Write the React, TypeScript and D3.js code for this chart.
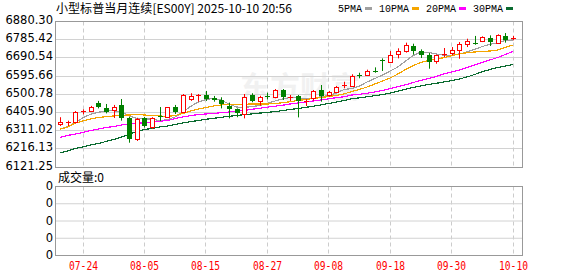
import React from "react";
import * as d3 from "d3";

const dates = [
  "07-21","07-22","07-23","07-24","07-25","07-28","07-29","07-30","07-31","08-01",
  "08-04","08-05","08-06","08-07","08-08","08-11","08-12","08-13","08-14","08-15",
  "08-18","08-19","08-20","08-21","08-22","08-25","08-26","08-27","08-28","08-29",
  "09-01","09-02","09-03","09-04","09-05","09-08","09-09","09-10","09-11","09-12",
  "09-15","09-16","09-17","09-18","09-19","09-22","09-23","09-24","09-25","09-26",
  "09-29","09-30","10-01","10-02","10-03","10-06","10-07","10-08","10-09","10-10",
];

const opens = [
  6344,6351,6355,6408,6415,6455,6427,6421,6445,6378,
  6267,6377,6332,6385,6384,6432,6408,6476,6493,6497,
  6480,6471,6440,6422,6396,6497,6467,6490,6488,6523,
  6486,6492,6464,6480,6523,6497,6514,6544,6545,6603,
  6601,6624,6679.5,6671,6711,6725,6752.5,6725,6707,6673,
  6707.5,6716,6733,6764.5,6770,6777,6794,6770,6805,6792.5,
];
const highs = [
  6381,6363,6413,6422,6440,6466,6450,6445,6476,6382,
  6378,6382,6381,6434,6434,6445,6502,6506,6502,6518,
  6492,6485,6457,6427,6502,6506,6493,6509,6528,6528,
  6497,6497,6474.5,6523,6549,6518,6544,6566,6605,6613,
  6629,6641,6688,6726,6740.5,6770,6764.5,6735,6716,6707,
  6742,6747,6773,6790.5,6805,6803,6808,6813.5,6820,6805,
];
const lows = [
  6335,6335,6349,6396,6410,6427,6401,6377,6363,6248,
  6257,6327,6320,6361,6381,6398,6403,6466,6462,6466,
  6462,6427,6375,6381,6375,6459,6441,6474,6480,6471,
  6466,6380,6439.5,6467,6462,6488,6511,6532,6544,6584,
  6596,6613,6622,6670,6688,6718,6707,6690,6634,6660,
  6695,6704,6686,6747,6759,6773,6752.5,6764.5,6770,6782,
];
const closes = [
  6356,6355,6410,6412,6433,6433,6410,6432,6378,6267,
  6372,6334,6375,6380,6433,6406,6497,6492,6495,6474.5,
  6471,6448,6425,6405,6488,6466,6488,6486,6523,6488,
  6489,6467,6467,6518,6492,6511,6540,6547.5,6598,6600,
  6622,6620.5,6673,6706,6726,6759,6725,6704,6669,6704,
  6711,6730,6764.5,6777,6764.5,6799.5,6773,6808,6782,6796,
];

const ma5 = [
  6318.0,6331.6,6352.4,6378.5,6396.2,6406.7,6413.4,6415.0,6408.2,6387.4,
  6374.3,6371.7,6371.7,6361.3,6369.1,6382.2,6408.2,6436.9,6460.4,6473.4,
  6478.7,6470.8,6450.0,6434.3,6431.7,6436.9,6442.1,6452.6,6465.6,6476.1,
  6483.9,6481.3,6476.1,6481.3,6488.0,6494.3,6507.3,6525.6,6530.8,6543.9,
  6564.7,6583.0,6601.2,6622.1,6643.0,6674.3,6703.0,6721.2,6718.6,6710.8,
  6704.0,6704.0,6710.8,6721.2,6735.3,6749.9,6761.4,6769.7,6781.2,6783.8,
];
const ma10 = [
  6318.0,6330.0,6350.9,6361.3,6371.7,6379.6,6383.7,6387.4,6391.0,6392.6,
  6394.2,6392.6,6390.0,6387.4,6384.8,6390.0,6400.4,6413.4,6423.9,6431.7,
  6439.5,6444.8,6447.4,6448.4,6448.9,6450.0,6450.0,6450.0,6452.6,6456.8,
  6462.0,6468.2,6473.4,6478.7,6483.9,6489.1,6494.3,6502.1,6515.2,6525.6,
  6538.6,6554.3,6569.9,6585.6,6606.5,6629.9,6650.8,6666.4,6676.9,6684.7,
  6691.5,6701.9,6710.8,6717.6,6721.2,6723.8,6726.4,6731.6,6744.7,6757.7,
];
const ma20 = [
  6276.3,6285.7,6293.5,6301.3,6311.7,6319.6,6327.4,6332.6,6340.4,6345.6,
  6349.3,6352.4,6356.1,6359.7,6363.9,6374.3,6382.2,6389.0,6395.2,6397.8,
  6400.4,6404.6,6408.2,6411.9,6416.1,6422.3,6427.5,6433.3,6438.5,6443.7,
  6450.0,6455.2,6460.4,6465.6,6470.8,6477.1,6482.8,6487.5,6496.9,6500.6,
  6505.8,6512.6,6520.4,6529.8,6539.7,6550.1,6562.1,6572.6,6583.0,6593.4,
  6606.5,6616.9,6627.3,6640.4,6653.4,6666.4,6679.5,6692.5,6708.2,6723.8,
];
const ma30 = [
  6194.4,6204.8,6217.8,6225.7,6236.1,6243.9,6254.4,6264.8,6277.8,6290.9,
  6306.5,6317.0,6322.2,6330.0,6335.2,6343.0,6350.9,6357.6,6363.9,6370.2,
  6375.4,6380.6,6385.8,6390.0,6394.2,6398.3,6402.5,6406.2,6410.3,6415.5,
  6421.3,6426.5,6432.2,6438.5,6445.3,6452.6,6460.4,6468.2,6477.1,6482.3,
  6487.5,6493.3,6499.0,6506.3,6516.2,6527.2,6536.0,6543.9,6551.7,6557.9,
  6564.7,6571.5,6580.4,6590.8,6603.8,6617.9,6629.9,6640.4,6648.2,6656.0,
];

const yTickLabels = ["6880.30","6785.42","6690.54","6595.66","6500.78","6405.90","6311.02","6216.13","6121.25"];
const xTickLabels = ["07-24","08-05","08-15","08-27","09-08","09-18","09-30","10-10"];
const volTickLabels = ["0","0","0","0","0"];
const legendNames = ["5PMA","10PMA","20PMA","30PMA"];
const titleText = "小型标普当月连续[ES00Y] 2025-10-10 20:56";
const volTitle = "成交量:0";

const RED = "#ff0000";
const GREEN = "#008000";
const maColors = ["#a0a0a0", "#f5a500", "#ff00ff", "#0a6b30"];
const FRAME = "#999999";
const HGRID = "#d2d2d2";
const VGRID = "#cccccc";

export default function App() {
  const left = 55.5, right = 522.5, top = 21.5, bottom = 167.5;
  const vTop = 186.5, vBottom = 255.5;
  const x = d3.scalePoint<string>().domain(dates).range([60, 513]);
  const y = d3.scaleLinear().domain([6121.25, 6880.30]).range([167, 21.5]);
  const vy = d3.scaleLinear().domain([0, volTickLabels.length - 1]).range([vBottom, vTop]);
  const crisp = (v: number) => Math.floor(v) + 0.5;
  const series = [ma5, ma10, ma20, ma30];
  const line = d3
    .line<number>()
    .x((_, i) => x(dates[i]) as number)
    .y((v) => y(v));

  let lx = 338;
  const legendItems = legendNames.map((name, i) => {
    const tw = name.length * 6;
    const item = { name, tx: lx, mx: lx + tw + 3, color: maColors[i], tw };
    lx = lx + tw + 3 + 7 + 7;
    return item;
  });

  return (
    <svg
      width={578}
      height={276}
      style={{ position: "absolute", left: 0, top: 0, background: "#fff" }}
    >
      <rect x={0} y={0} width={578} height={276} fill="#fff" />
      <text
        x={240}
        y={98}
        fontSize={29}
        fontWeight="bold"
        fontFamily="'Noto Sans CJK SC'"
        fill="#f1f1f1"
        textLength={120}
        lengthAdjust="spacingAndGlyphs"
      >
        东方财富
      </text>
      <text
        x={56}
        y={12.5}
        fontSize={12}
        fontFamily="'Noto Sans CJK SC', sans-serif"
        fill="#000"
        textLength={236}
        lengthAdjust="spacingAndGlyphs"
      >
        {titleText}
      </text>
      {legendItems.map((it) => (
        <g key={it.name}>
          <text
            x={it.tx}
            y={12}
            fontSize={10.5}
            fontFamily="'Liberation Mono', monospace"
            fill="#000"
            textLength={it.tw}
            lengthAdjust="spacingAndGlyphs"
          >
            {it.name}
          </text>
          <rect x={it.mx} y={7} width={7} height={3} fill={it.color} />
        </g>
      ))}
      {yTickLabels.map((t, i) => {
        const yy = crisp(y(parseFloat(t)));
        return (
          <g key={"yg" + i}>
            {i > 0 && i < yTickLabels.length - 1 && (
              <line x1={left} x2={right} y1={yy} y2={yy} stroke={HGRID} strokeWidth={1} />
            )}
            <text
              x={53}
              y={yy - 1}
              textAnchor="end"
              dominantBaseline="middle"
              fontSize={11.5}
              fontFamily="'DejaVu Sans', sans-serif"
              fill="#000"
            >
              {t}
            </text>
          </g>
        );
      })}
      {xTickLabels.map((t) => {
        const xx = crisp(x(t) as number);
        return (
          <g key={"xg" + t}>
            <line x1={xx} x2={xx} y1={top} y2={bottom} stroke={VGRID} strokeDasharray="4,3" />
            <line x1={xx} x2={xx} y1={vTop} y2={vBottom} stroke={VGRID} strokeDasharray="4,3" />
            <text
              x={xx}
              y={266}
              textAnchor="middle"
              dominantBaseline="middle"
              fontSize={11.5}
              fontFamily="'DejaVu Sans Mono', monospace"
              fill={RED}
              textLength={29}
              lengthAdjust="spacingAndGlyphs"
            >
              {t}
            </text>
          </g>
        );
      })}
      {volTickLabels.map((t, i) => {
        const yy = vy(i);
        return (
          <g key={"vg" + i}>
            {i > 0 && i < volTickLabels.length - 1 && (
              <line x1={left} x2={right} y1={yy} y2={yy} stroke={HGRID} />
            )}
            <text
              x={53}
              y={yy}
              textAnchor="end"
              dominantBaseline="middle"
              fontSize={11.5}
              fontFamily="'DejaVu Sans', sans-serif"
              fill="#000"
            >
              {t}
            </text>
          </g>
        );
      })}
      <text x={58} y={181.5} fontSize={12} fontFamily="'Noto Sans CJK SC', sans-serif" fill="#000">
        {volTitle}
      </text>
      <defs>
        <clipPath id="clipMain">
          <rect x={left} y={top} width={right - left} height={bottom - top} />
        </clipPath>
      </defs>
      <g clipPath="url(#clipMain)">
        {series.map((s, i) => (
          <path
            key={"ma" + i}
            d={line(s) || ""}
            fill="none"
            stroke={maColors[i]}
            strokeWidth={1.2}
            shapeRendering="crispEdges"
          />
        ))}
      </g>
      {dates.map((d, i) => {
        const cx = Math.round(x(d) as number);
        const o = y(opens[i]);
        const c = y(closes[i]);
        const h = y(highs[i]);
        const l = y(lows[i]);
        const up = closes[i] >= opens[i];
        const color = up ? RED : GREEN;
        const t0 = Math.round(Math.min(o, c));
        const b0 = Math.round(Math.max(o, c));
        const bh = b0 - t0;
        return (
          <g key={"c" + i}>
            <line x1={cx + 0.5} x2={cx + 0.5} y1={h} y2={l} stroke={color} strokeWidth={1} />
            {up ? (
              bh >= 2 ? (
                <rect x={cx - 1.5} y={t0 + 0.5} width={4} height={bh} fill="#fff" stroke={color} strokeWidth={1} />
              ) : (
                <rect x={cx - 2} y={t0} width={5} height={Math.max(bh, 1)} fill={color} />
              )
            ) : (
              <rect x={cx - 2} y={t0} width={5} height={Math.max(bh, 1)} fill={color} />
            )}
          </g>
        );
      })}
      <rect x={left} y={top} width={right - left} height={bottom - top} fill="none" stroke={FRAME} />
      <rect x={left} y={vTop} width={right - left} height={vBottom - vTop} fill="none" stroke={FRAME} />
    </svg>
  );
}
